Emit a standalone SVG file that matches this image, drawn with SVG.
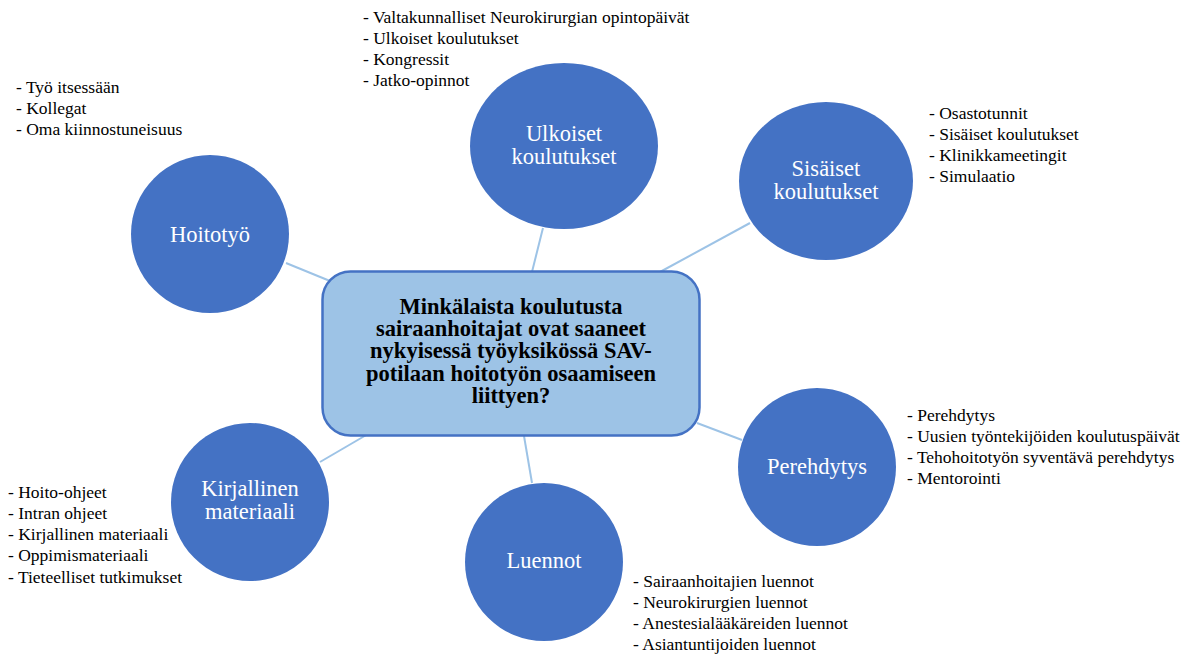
<svg xmlns="http://www.w3.org/2000/svg" width="1189" height="654" viewBox="0 0 1189 654">
<style>
.bg{fill:#ffffff}
.conn line{stroke:#9dc3e6;stroke-width:2;fill:none}
.node ellipse{fill:#4472c4}
.ntext{font-family:"Liberation Serif","Times New Roman",serif;font-size:22.5px;fill:#ffffff;text-anchor:middle}
.list{font-family:"Liberation Serif","Times New Roman",serif;font-size:17.5px;fill:#000000}
.center rect{fill:#9dc3e6;stroke:#4472c4;stroke-width:2.5}
.ctext{font-family:"Liberation Serif","Times New Roman",serif;font-size:22.5px;font-weight:bold;fill:#000000;text-anchor:middle}
</style>
<rect class="bg" x="0" y="0" width="1189" height="654"/>
<g id="connectors" class="conn">
<line x1="286" y1="263" x2="330" y2="281"/>
<line x1="543" y1="228" x2="532" y2="272"/>
<line x1="750" y1="223" x2="660" y2="272"/>
<line x1="697" y1="423" x2="742" y2="440"/>
<line x1="524" y1="436" x2="532" y2="483"/>
<line x1="320" y1="462" x2="368" y2="434"/>
</g>
<g id="center" class="center">
<rect x="322.5" y="271.5" width="377" height="164" rx="28" ry="28"/>
<text class="ctext"><tspan x="511" y="314">Minkälaista koulutusta</tspan><tspan x="511" y="336.2">sairaanhoitajat ovat saaneet</tspan><tspan x="511" y="358.4">nykyisessä työyksikössä SAV-</tspan><tspan x="511" y="380.6">potilaan hoitotyön osaamiseen</tspan><tspan x="511" y="402.8">liittyen?</tspan></text>
</g>
<g id="node-hoitotyo" class="node">
<ellipse cx="210" cy="234" rx="79" ry="79"/>
<text class="ntext" x="210" y="242">Hoitotyö</text>
<text class="list"><tspan x="16" y="93">- Työ itsessään</tspan><tspan x="16" y="114">- Kollegat</tspan><tspan x="16" y="135">- Oma kiinnostuneisuus</tspan></text>
</g>
<g id="node-ulkoiset" class="node">
<ellipse cx="564" cy="146" rx="94" ry="83"/>
<text class="ntext"><tspan x="564" y="141">Ulkoiset</tspan><tspan x="564" y="164">koulutukset</tspan></text>
<text class="list"><tspan x="363" y="23">- Valtakunnalliset Neurokirurgian opintopäivät</tspan><tspan x="363" y="44">- Ulkoiset koulutukset</tspan><tspan x="363" y="65">- Kongressit</tspan><tspan x="363" y="86">- Jatko-opinnot</tspan></text>
</g>
<g id="node-sisaiset" class="node">
<ellipse cx="826" cy="181" rx="87" ry="79"/>
<text class="ntext"><tspan x="826" y="176">Sisäiset</tspan><tspan x="826" y="199">koulutukset</tspan></text>
<text class="list"><tspan x="929" y="119">- Osastotunnit</tspan><tspan x="929" y="140">- Sisäiset koulutukset</tspan><tspan x="929" y="161">- Klinikkameetingit</tspan><tspan x="929" y="182">- Simulaatio</tspan></text>
</g>
<g id="node-perehdytys" class="node">
<ellipse cx="817" cy="467" rx="79" ry="79"/>
<text class="ntext" x="817" y="474">Perehdytys</text>
<text class="list"><tspan x="907" y="421">- Perehdytys</tspan><tspan x="907" y="442">- Uusien työntekijöiden koulutuspäivät</tspan><tspan x="907" y="463">- Tehohoitotyön syventävä perehdytys</tspan><tspan x="907" y="484">- Mentorointi</tspan></text>
</g>
<g id="node-luennot" class="node">
<ellipse cx="544" cy="562" rx="79" ry="79"/>
<text class="ntext" x="544" y="568">Luennot</text>
<text class="list"><tspan x="633" y="587">- Sairaanhoitajien luennot</tspan><tspan x="633" y="608">- Neurokirurgien luennot</tspan><tspan x="633" y="629">- Anestesialääkäreiden luennot</tspan><tspan x="633" y="650">- Asiantuntijoiden luennot</tspan></text>
</g>
<g id="node-kirjallinen" class="node">
<ellipse cx="250" cy="502" rx="79" ry="79"/>
<text class="ntext"><tspan x="250" y="496">Kirjallinen</tspan><tspan x="250" y="519">materiaali</tspan></text>
<text class="list"><tspan x="8" y="498">- Hoito-ohjeet</tspan><tspan x="8" y="519">- Intran ohjeet</tspan><tspan x="8" y="540">- Kirjallinen materiaali</tspan><tspan x="8" y="561">- Oppimismateriaali</tspan><tspan x="8" y="583">- Tieteelliset tutkimukset</tspan></text>
</g>
</svg>
